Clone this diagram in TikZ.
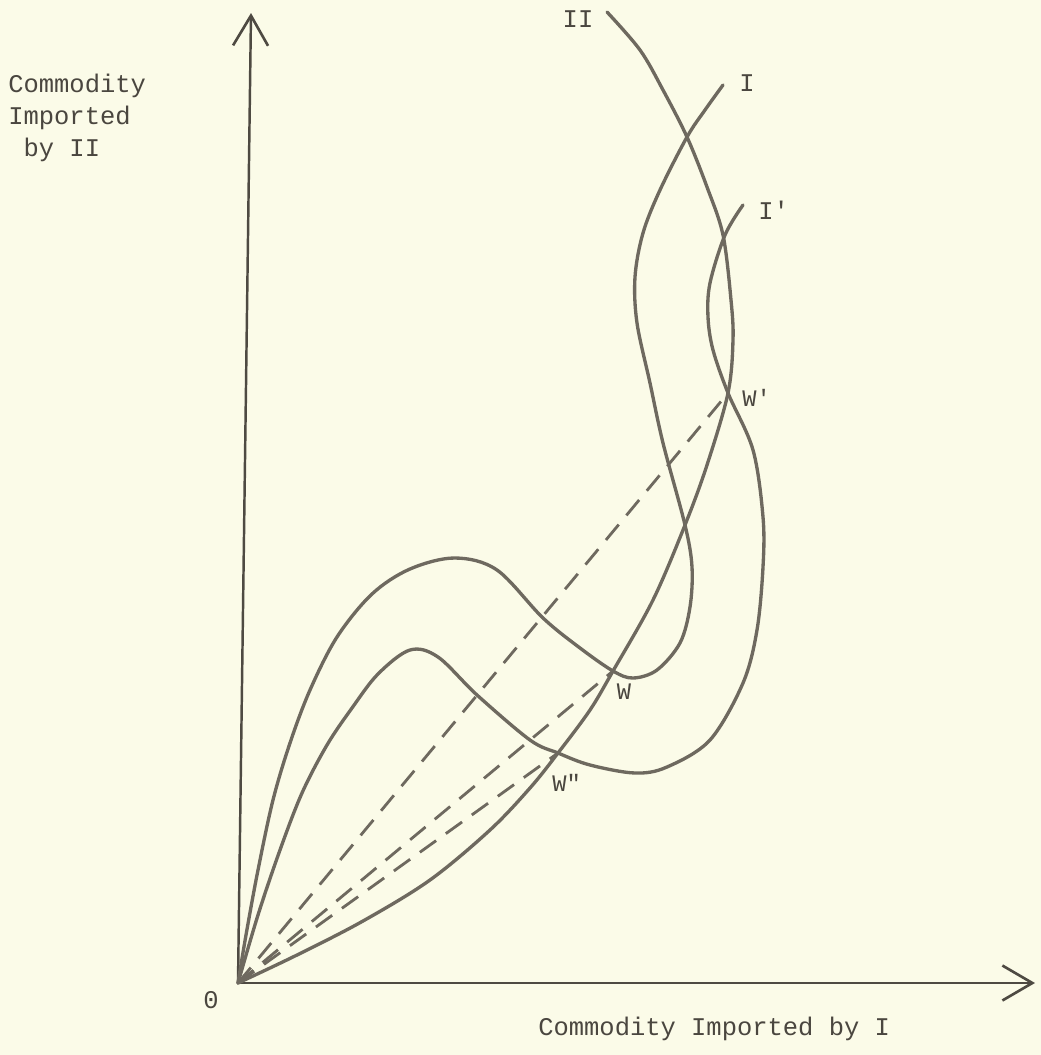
\documentclass[tikz,border=0pt]{standalone}
\usepackage{fontspec}
\setmonofont{Liberation Mono}
\usepackage{xcolor}
\usepackage{tikz}
\usetikzlibrary{arrows.meta}
\definecolor{paper}{HTML}{FBFBE8}
\definecolor{curvegray}{HTML}{6E695F}
\definecolor{axisgray}{HTML}{4E4A42}
\definecolor{textgray}{HTML}{4A463F}

\begin{document}
\begin{tikzpicture}[
    x=0.02cm,y=-0.02cm,
    line cap=round,
    line join=round,
    axis/.style={draw=axisgray, line width=1.4pt, -{Straight Barb[length=0.6cm,width=0.7cm,line width=1.5pt]}},
    offer/.style={draw=curvegray, line width=1.9pt},
    ray/.style={draw=curvegray, line width=1.6pt, dash pattern=on 0.4cm off 0.24cm, line cap=butt},
    lbl/.style={font=\ttfamily\fontsize{14.5}{18.1}\selectfont, text=textgray, inner sep=0pt},
    ptlbl/.style={font=\ttfamily\fontsize{13.5}{15}\selectfont, text=textgray, inner sep=0pt}
]

% Paper
\fill[paper] (0,0) rectangle (1041,1055);
\useasboundingbox (0,0) rectangle (1041,1055);

% Key points
\coordinate (O) at (238,983);
\coordinate (W) at (613,671);
\coordinate (Wp) at (728,393);
\coordinate (Wpp) at (558,753);
\coordinate (ytip) at (251,13);
\coordinate (xtip) at (1035,983);

% Axes
\draw[axis] (O) -- (ytip);
\draw[axis] (O) -- (xtip);
\node[lbl, anchor=north west, align=left] (ylabel) at (8,74) {Commodity\\Imported\\\hspace*{0.6em}by II};
\node[lbl, anchor=base west] (xlabel) at (538,1035) {Commodity Imported by I};
\node[lbl] (origin) at (211,1000) {0};

% Rays from the origin
\draw[ray] (O) -- (Wp);
\draw[ray] (O) -- (W);
\draw[ray] (O) -- (Wpp);

% Offer curve II
\draw[offer] plot[smooth, tension=0.55] coordinates {(O) (297,955) (363,921) (430,880) (490,830) (530,788) (Wpp) (590,710) (W) (653,600) (685,525) (707,465) (Wp) (733,340) (731,300) (723,235) (707,187) (687,137) (663,90) (640,50) (607,12)};
\node[lbl] (labII) at (578,19) {II};

% Offer curve I
\draw[offer] plot[smooth, tension=0.55] coordinates {(O) (246,935) (258,870) (273,800) (290,743) (310,690) (337,637) (372,594) (410,569) (455,558) (497,570) (543,618) (580,648) (W) (633,678) (657,670) (680,643) (690,607) (692,567) (685,525) (663,443) (650,383) (637,323) (635,277) (643,233) (660,190) (687,137) (705,110) (723,85)};
\node[lbl] (labI) at (747,83) {I};

% Offer curve I'
\draw[offer] plot[smooth, tension=0.55] coordinates {(O) (258,915) (280,850) (302,793) (327,745) (352,708) (378,674) (410,650) (438,657) (477,695) (530,740) (Wpp) (590,765) (635,773) (667,767) (710,740) (743,683) (757,630) (763,567) (763,517) (753,450) (Wp) (713,350) (708,317) (710,283) (725,235) (743,205)};
\node[lbl, anchor=west] (labIp) at (758,210) {I\textquotesingle};

% Equilibria
\node[ptlbl, anchor=west] (labWp) at (742,398) {W\textquotesingle};
\node[ptlbl] (labW) at (624,692) {W};
\node[ptlbl, anchor=west] (labWpp) at (552,783) {W"};

\end{tikzpicture}
\end{document}
